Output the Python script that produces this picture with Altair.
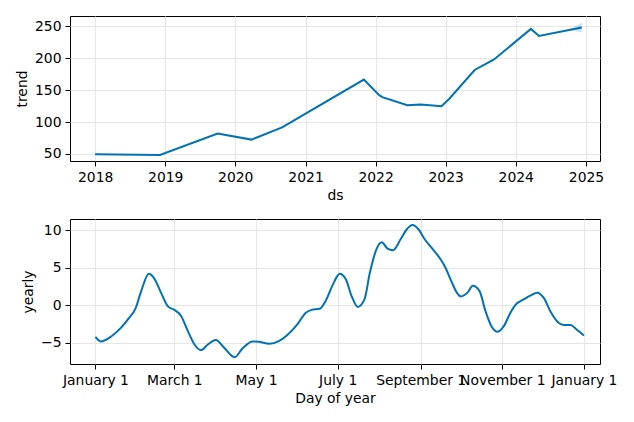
import altair as alt
import pandas as pd

# ---- Trend panel data ----
trend_dates = ["2018-01-01", "2018-12-05", "2019-10-01", "2020-03-25", "2020-09-01",
               "2021-11-01", "2022-01-20", "2022-02-05", "2022-06-15", "2022-08-25",
               "2022-12-10", "2023-01-20", "2023-06-01", "2023-09-10", "2024-03-20",
               "2024-05-01", "2024-12-10"]
trend_values = [49.5, 48.4, 82.0, 72.5, 91.5,
                166.5, 142.0, 139.0, 126.3, 127.3,
                124.7, 136.5, 181.5, 198.0, 245.8,
                234.7, 248.0]
band_dates = ["2024-09-20", "2024-11-01", "2024-12-10"]
band_lower = [243.2, 242.7, 240.0]
band_upper = [243.2, 248.7, 256.0]

# ---- Yearly panel data (day of year offset, value) ----
yearly_days = [0, 4, 12, 19, 25, 30, 34, 40, 43.5, 49.5, 54, 59, 64, 69, 74, 79, 84, 90, 96,
               104, 110, 117.5, 122, 130, 137, 143, 151, 157, 161.5, 167.5, 172, 178, 182.5,
               187, 191.5, 196, 201, 205, 210, 214, 218, 222.5, 228, 232.5, 237, 241.5, 246,
               252, 258, 261, 266, 270, 273, 278, 282, 287, 291.5, 296, 300.5, 305, 310, 314,
               320, 326, 330, 335, 340, 346, 350, 355, 359.5, 365]
yearly_values = [-4.2, -4.8, -4.1, -3.0, -1.7, -0.4, 1.8, 4.2, 3.7, 1.5, -0.1, -0.6, -1.4, -3.4,
                 -5.2, -5.95, -5.2, -4.6, -5.6, -6.9, -5.7, -4.8, -4.85, -5.1, -4.75, -4.0,
                 -2.5, -1.0, -0.6, -0.45, 0.6, 3.0, 4.2, 3.5, 1.2, -0.2, 0.8, 4.3, 7.5, 8.4,
                 7.6, 7.35, 8.8, 10.1, 10.7, 10.1, 8.8, 7.5, 6.1, 5.2, 3.2, 1.7, 1.2, 1.7, 2.6,
                 1.9, -0.8, -2.8, -3.5, -2.8, -1.0, 0.1, 0.8, 1.4, 1.7, 1.0, -0.8, -2.3, -2.6,
                 -2.6, -3.2, -4.0]

COLOR = "#0072B2"
FONT = "DejaVu Sans"
FS = 13.9

trend_df = pd.DataFrame({"ds": [d + "T00:00:00" for d in trend_dates], "trend": trend_values})
band_df = pd.DataFrame({"ds": [d + "T00:00:00" for d in band_dates],
                        "lower": band_lower, "upper": band_upper})
base_day = pd.Timestamp("2017-01-01")
yearly_df = pd.DataFrame({
    "day": [(base_day + pd.to_timedelta(d, unit="D")).strftime("%Y-%m-%dT%H:%M:%S") for d in yearly_days],
    "yearly": yearly_values,
})

W, H = 530, 145

x_trend = alt.X("ds:T", title="ds",
                scale=alt.Scale(domain=[alt.DateTime(year=2017, month=8, date=23),
                                        alt.DateTime(year=2025, month=3, date=15)], nice=False),
                axis=alt.Axis(values=[alt.DateTime(year=y, month=1, date=1) for y in range(2018, 2026)],
                              format="%Y", labelOverlap=False, labelFlush=False))
y_scale_trend = alt.Scale(domain=[39, 266], nice=False, zero=False)

band = alt.Chart(band_df).mark_area(color=COLOR, opacity=0.2).encode(
    x=x_trend,
    y=alt.Y("lower:Q", scale=y_scale_trend, title="trend",
            axis=alt.Axis(values=[50, 100, 150, 200, 250])),
    y2="upper:Q",
)
trend_line = alt.Chart(trend_df).mark_line(color=COLOR, strokeWidth=2).encode(
    x=x_trend,
    y=alt.Y("trend:Q", scale=y_scale_trend, title="trend",
            axis=alt.Axis(values=[50, 100, 150, 200, 250])),
)
top = alt.layer(band, trend_line).properties(width=W, height=H)

month_ticks = [alt.DateTime(year=2017, month=m, date=1) for m in [1, 3, 5, 7, 9, 11]] + \
              [alt.DateTime(year=2018, month=1, date=1)]
yearly_line = alt.Chart(yearly_df).mark_line(color=COLOR, strokeWidth=2, interpolate="monotone").encode(
    x=alt.X("day:T", title="Day of year",
            scale=alt.Scale(domain=[alt.DateTime(year=2016, month=12, date=13),
                                    alt.DateTime(year=2018, month=1, date=13)], nice=False),
            axis=alt.Axis(values=month_ticks, format="%B %-d", labelOverlap=False, labelFlush=False)),
    y=alt.Y("yearly:Q", title="yearly",
            scale=alt.Scale(domain=[-7.8, 11.5], nice=False, zero=False),
            axis=alt.Axis(values=[-5, 0, 5, 10])),
).properties(width=W, height=H)

chart = alt.vconcat(top, yearly_line, spacing=14).properties(
    padding={"left": 14, "top": 15, "right": 5, "bottom": 5},
    background="white",
).configure_view(
    stroke="black", strokeWidth=1
).configure_axis(
    labelFont=FONT, titleFont=FONT, labelFontSize=FS, titleFontSize=FS,
    titleFontWeight="normal", labelColor="black", titleColor="black",
    tickColor="black", tickSize=5, labelPadding=4, titlePadding=5,
    domain=False, grid=True, gridColor="#e6e6e6", gridWidth=1,
)

chart.save("out.html", embed_options={"renderer": "svg", "actions": False})
